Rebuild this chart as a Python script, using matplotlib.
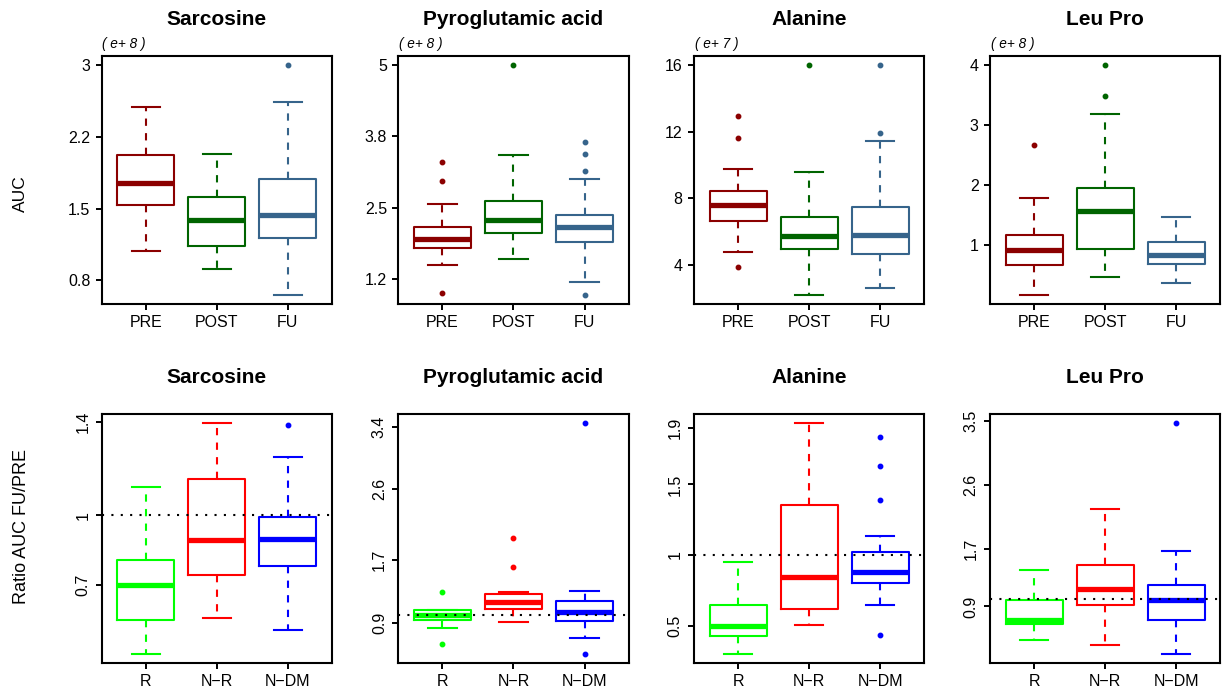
import numpy as np
import matplotlib
matplotlib.use("Agg")
import matplotlib.pyplot as plt

plt.rcParams['font.family'] = ['Liberation Sans', 'DejaVu Sans']

# group names
time_groups = ["PRE", "POST", "FU"]
resp_groups = ["R", "N\u2212R", "N\u2212DM"]
titles = ["Sarcosine", "Pyroglutamic acid", "Alanine", "Leu Pro"]
exponents = ["( e+ 8 )", "( e+ 8 )", "( e+ 7 )", "( e+ 8 )"]

# top row: AUC, per group [whisker low, q1, median, q3, whisker high]
sarc_auc = [[1.099, 1.574, 1.795, 2.083, 2.569],
            [0.919, 1.157, 1.415, 1.649, 2.094],
            [0.651, 1.235, 1.472, 1.839, 2.620]]
sarc_auc_out = [[], [], [3.0]]
pyro_auc = [[1.454, 1.748, 1.907, 2.131, 2.526],
            [1.554, 2.013, 2.255, 2.585, 3.409],
            [1.159, 1.866, 2.131, 2.337, 2.973]]
pyro_auc_out = [[3.286, 2.938, 0.947], [5.0], [3.633, 3.415, 3.121, 0.918]]
ala_auc = [[4.756, 6.607, 7.622, 8.438, 9.731],
           [2.189, 4.955, 5.752, 6.866, 9.552],
           [2.607, 4.637, 5.771, 7.463, 11.423]]
ala_auc_out = [[12.935, 11.602, 3.881], [16.0], [16.0, 11.901]]
leu_auc = [[0.164, 0.673, 0.917, 1.161, 1.780],
           [0.463, 0.934, 1.559, 1.941, 3.186],
           [0.363, 0.679, 0.828, 1.055, 1.470]]
leu_auc_out = [[2.666], [4.0, 3.474], []]

# bottom row: ratio AUC FU/PRE
sarc_ratio = [[0.401, 0.549, 0.700, 0.808, 1.121],
              [0.556, 0.743, 0.891, 1.154, 1.396],
              [0.503, 0.782, 0.897, 0.992, 1.252]]
sarc_ratio_out = [[], [], [1.387]]
pyro_ratio = [[0.828, 0.934, 0.998, 1.061, 1.061],
              [0.904, 1.070, 1.159, 1.265, 1.287],
              [0.700, 0.917, 1.032, 1.180, 1.304]]
pyro_ratio_out = [[1.287, 0.628], [1.984, 1.606], [3.443, 0.500]]
ala_ratio = [[0.299, 0.424, 0.495, 0.649, 0.953],
             [0.507, 0.620, 0.845, 1.357, 1.933],
             [0.644, 0.802, 0.880, 1.022, 1.133]]
ala_ratio_out = [[], [], [1.836, 1.628, 1.388, 0.436]]
leu_ratio = [[0.429, 0.653, 0.714, 0.984, 1.413],
             [0.364, 0.923, 1.142, 1.473, 2.261],
             [0.234, 0.714, 0.993, 1.203, 1.669]]
leu_ratio_out = [[], [], [3.463]]

# tick values / labels
top_ticks = [[0.8, 1.5333, 2.2667, 3.0], [1.2, 2.4667, 3.7333, 5.0], [4, 8, 12, 16], [1, 2, 3, 4]]
top_ticklabels = [["0.8", "1.5", "2.2", "3"], ["1.2", "2.5", "3.8", "5"],
                  ["4", "8", "12", "16"], ["1", "2", "3", "4"]]
bot_ticks = [[0.7, 1.0, 1.4], [0.9, 1.7, 2.6, 3.4], [0.5, 1.0, 1.5, 1.9], [0.9, 1.7, 2.6, 3.5]]
bot_ticklabels = [["0.7", "1", "1.4"], ["0.9", "1.7", "2.6", "3.4"],
                  ["0.5", "1", "1.5", "1.9"], ["0.9", "1.7", "2.6", "3.5"]]

top_colors = ["#8B0000", "#006400", "#36648B"]
bot_colors = ["#00FF00", "#FF0000", "#0000FF"]

W, H = 1226, 690
fig = plt.figure(figsize=(W / 100, H / 100), dpi=100)

lefts = [101.7, 398.3, 694, 990]
pw = 230.3


def draw_panel(ax, summ, outs, colors, groups, ticks, ticklabels, rotate):
    stats = []
    for s, o, g in zip(summ, outs, groups):
        stats.append(dict(whislo=s[0], q1=s[1], med=s[2], q3=s[3], whishi=s[4],
                          fliers=o, label=g))
    arts = ax.bxp(stats, positions=[1, 2, 3], widths=0.8, patch_artist=False,
                  showfliers=True, manage_ticks=False)
    for i, c in enumerate(colors):
        arts['boxes'][i].set(color=c, linewidth=1.5)
        arts['medians'][i].set(color=c, linewidth=3.8, solid_capstyle='butt')
        for w in arts['whiskers'][2 * i:2 * i + 2]:
            w.set(color=c, linewidth=1.5, linestyle=(0, (3.5, 3.5)))
        for cp in arts['caps'][2 * i:2 * i + 2]:
            cp.set(color=c, linewidth=1.5)
        arts['fliers'][i].set(marker='o', markersize=3.2, markerfacecolor=c,
                              markeredgecolor=c, linestyle='none')
    vals = [v for s in summ for v in s] + [v for o in outs for v in o]
    lo, hi = min(vals), max(vals)
    r = hi - lo
    ax.set_ylim(lo - 0.04 * r, hi + 0.04 * r)
    ax.set_xlim(0.38, 3.62)
    ax.set_xticks([1, 2, 3])
    ax.set_xticklabels(groups, fontsize=11.5)
    ax.set_yticks(ticks)
    ax.set_yticklabels(ticklabels, fontsize=11.5)
    ax.tick_params(axis='both', length=4, width=1.4, direction='out')
    ax.tick_params(axis='x', pad=4)
    ax.tick_params(axis='y', pad=4.2)
    if rotate:
        for t in ax.get_yticklabels():
            t.set_rotation(90)
            t.set_va('center')
            t.set_ha('right')
    for sp in ax.spines.values():
        sp.set_linewidth(1.5)


top_summ = [sarc_auc, pyro_auc, ala_auc, leu_auc]
top_outs = [sarc_auc_out, pyro_auc_out, ala_auc_out, leu_auc_out]
bot_summ = [sarc_ratio, pyro_ratio, ala_ratio, leu_ratio]
bot_outs = [sarc_ratio_out, pyro_ratio_out, ala_ratio_out, leu_ratio_out]

for k in range(4):
    # top row
    ax = fig.add_axes([lefts[k] / W, 1 - 304.3 / H, pw / W, 248.6 / H])
    draw_panel(ax, top_summ[k], top_outs[k], top_colors, time_groups,
               top_ticks[k], top_ticklabels[k], False)
    ax.set_title(titles[k], fontsize=15, fontweight='bold', pad=22)
    ax.annotate(exponents[k], xy=(0, 1), xycoords='axes fraction', xytext=(0.5, 8.6),
                textcoords='offset points', ha='left', va='center',
                fontsize=9.8, style='italic')

    # bottom row
    ax = fig.add_axes([lefts[k] / W, 1 - 663.3 / H, pw / W, 249.3 / H])
    draw_panel(ax, bot_summ[k], bot_outs[k], bot_colors, resp_groups,
               bot_ticks[k], bot_ticklabels[k], True)
    ax.axhline(1, color='black', linewidth=1.5, linestyle=(0, (1, 3.5)), zorder=5)
    ax.set_title(titles[k], fontsize=15, fontweight='bold', pad=22)

fig.text(20.7 / W, 1 - 194 / H, "AUC", rotation=90, ha='center', va='center', fontsize=12.5)
fig.text(21.7 / W, 1 - 527 / H, "Ratio AUC FU/PRE", rotation=90, ha='center', va='center',
         fontsize=13)

fig.savefig("out.png", dpi=100)
